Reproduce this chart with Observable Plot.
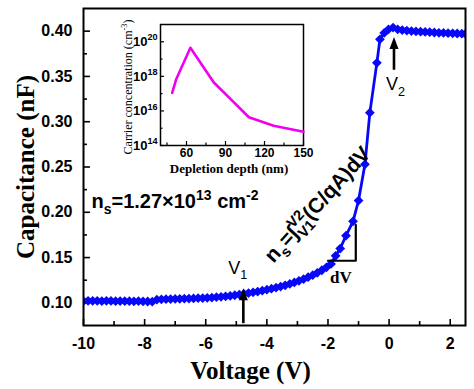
<!DOCTYPE html>
<html><head><meta charset="utf-8">
<script src="https://cdn.jsdelivr.net/npm/d3@7"></script>
<script src="https://cdn.jsdelivr.net/npm/@observablehq/plot@0.6"></script>
<style>
html,body{margin:0;padding:0;background:#fff;}
#wrap{position:relative;width:474px;height:389px;overflow:hidden;}
#main,#inset{position:absolute;}
#main{left:0;top:0;}
#inset{left:118px;top:8px;}
#main [aria-label^="x-axis"] text, #main [aria-label^="y-axis"] text{font-family:"Liberation Sans",Arial,sans-serif;font-weight:bold;font-size:16px;fill:#000;}
#inset [aria-label^="x-axis"] text{font-family:"Liberation Sans",Arial,sans-serif;font-weight:bold;font-size:12px;fill:#000;}
#inset [aria-label^="y-axis"] text{font-family:"Liberation Sans",Arial,sans-serif;font-weight:bold;font-size:13px;fill:#000;}
</style></head>
<body><div id="wrap"><div id="main"></div><div id="inset"></div></div>
<script>
// ---- main C–V data ----
const voltage = [-10,-9.85,-9.7,-9.55,-9.4,-9.25,-9.1,-8.95,-8.8,-8.65,-8.5,-8.35,-8.2,-8.05,-7.9,-7.75,
  -7.6,-7.45,-7.3,-7.15,-7,-6.85,-6.7,-6.55,-6.4,-6.25,-6.1,-5.95,-5.8,-5.65,-5.5,-5.35,-5.2,-5.05,
  -4.9,-4.75,-4.6,-4.45,-4.3,-4.15,-4,-3.85,-3.7,-3.55,-3.4,-3.25,-3.1,-2.95,-2.8,-2.65,-2.5,-2.35,
  -2.2,-2.05,-1.9,-1.75,-1.6,-1.41,-1.18,-1.0,-0.79,-0.63,-0.4,-0.3,-0.16,-0.02,0.13,0.28,0.43,0.58,
  0.73,0.88,1.03,1.18,1.33,1.48,1.63,1.78,1.93,2.08,2.23,2.38,2.5];
const capacitance = [0.1020,0.1023,0.1021,0.1022,0.1020,0.1022,0.1021,0.1019,0.1020,0.1018,0.1019,0.1017,0.1018,0.1016,0.1015,0.1013,
  0.1035,0.1039,0.1040,0.1042,0.1043,0.1044,0.1046,0.1047,0.1049,0.1051,0.1053,0.1056,0.1059,0.1063,0.1067,0.1072,0.1077,0.1084,
  0.1092,0.1100,0.1108,0.1116,0.1125,0.1135,0.1145,0.1156,0.1167,0.1180,0.1194,0.1209,0.1225,0.1243,0.1262,0.1283,0.1306,0.1332,
  0.1360,0.1392,0.1430,0.1520,0.1600,0.1742,0.1900,0.2130,0.2530,0.3100,0.3650,0.3910,0.3980,0.4020,0.4040,0.4020,0.4012,0.4006,
  0.4001,0.3997,0.3994,0.3991,0.3988,0.3985,0.3982,0.3980,0.3978,0.3976,0.3974,0.3972,0.3970];
const xTickValues = [-10,-8,-6,-4,-2,0,2];
const xMinorTicks = [-9,-7,-5,-3,-1,1];
const yTickValues = [0.10,0.15,0.20,0.25,0.30,0.35,0.40];
const yMinorTicks = [0.125,0.175,0.225,0.275,0.325,0.375];

// ---- inset data ----
const depth = [49,52,63,81,94,108,127,150];
const carrier = [1.1e17,6.5e17,4.5e19,4.4e17,4.8e16,4.3e15,1.4e15,6.3e14];
const insetXTicks = [60,90,120,150];
const insetXMinor = [45,75,105,135];
const insetYTicks = [1e14,1e16,1e18,1e20];
const insetYMinor = [1e15,1e17,1e19];

// ---- annotations (data coordinates) ----
const arrows = [{x:-4.77, tip:0.1160, tail:0.0770}, {x:0.16, tip:0.3934, tail:0.3568}];
const vLabels = [{x:-5.26, y:0.132, t:"V_{1}"}, {x:-0.10, y:0.3347, t:"V_{2}"}];
const dVLine = [{x:-2.0, y:0.1465}, {x:-1.09, y:0.1465}, {x:-1.09, y:0.186}];
const dVLabel = [{x:-1.58, y:0.1277, t:"dV"}];
const nsLabel = [{x:-9.74, y:0.2115, t:"n_{s}=1.27×10^{13} cm^{-2}"}];
const formula = [{x:-2.34, y:0.2085, t:"n_{s}=∫^{V2}_{V1}(C/qA)dV"}];

const blue = "#0808f8";
const sans = "Liberation Sans, Arial, sans-serif";
const serif = "Liberation Serif, Times New Roman, serif";
const cv = voltage.map((v, i) => ({v, c: capacitance[i]}));

const arrowHead = {draw(ctx, size) {
  const r = Math.sqrt(size / Math.PI), w = r * 0.9, h = r * 2.4;
  ctx.moveTo(0, 0); ctx.lineTo(w, h); ctx.lineTo(-w, h); ctx.closePath();
}};

const W = 474, H = 389, mL = 83, mR = 9, mT = 8, mB = 64;
const fw = W - mL - mR, fh = H - mT - mB;

const main = Plot.plot({
  width: W, height: H, marginLeft: mL, marginRight: mR, marginTop: mT, marginBottom: mB,
  style: {background: "transparent", overflow: "visible"},
  x: {domain: [-10, 2.5], ticks: xTickValues, tickFormat: d => String(d), tickSize: 0, tickPadding: 12, label: null},
  y: {domain: [0.075, 0.425], ticks: yTickValues, tickFormat: d => d.toFixed(2), tickSize: 0, tickPadding: 11, label: null},
  marks: [
    Plot.tickX(xTickValues, {x: d => d, insetTop: fh - 6, stroke: "#000", strokeWidth: 1.6}),
    Plot.tickX(xMinorTicks, {x: d => d, insetTop: fh - 4, stroke: "#000", strokeWidth: 1.6}),
    Plot.tickY(yTickValues, {y: d => d, insetRight: fw - 7, stroke: "#000", strokeWidth: 1.6}),
    Plot.tickY(yMinorTicks, {y: d => d, insetRight: fw - 4, stroke: "#000", strokeWidth: 1.6}),
    Plot.line(cv, {x: "v", y: "c", stroke: blue, strokeWidth: 2.8, clip: true}),
    Plot.dot(cv, {x: "v", y: "c", symbol: "diamond2", r: 4.4, fill: blue, stroke: "none", clip: true}),
    Plot.frame({stroke: "#000", strokeWidth: 2}),
    Plot.ruleX(arrows, {x: "x", y1: "tail", y2: d => d.tip - 0.007, stroke: "#000", strokeWidth: 2.6}),
    Plot.dot(arrows, {x: "x", y: "tip", symbol: arrowHead, r: 5, fill: "#000", stroke: "none"}),
    Plot.line(dVLine, {x: "x", y: "y", stroke: "#000", strokeWidth: 2.2}),
    Plot.text(vLabels, {x: "x", y: "y", text: "t", textAnchor: "start", lineAnchor: "bottom", fontFamily: sans, fontSize: 18, fill: "#000"}),
    Plot.text(dVLabel, {x: "x", y: "y", text: "t", fontFamily: serif, fontWeight: "bold", fontSize: 17, fill: "#000"}),
    Plot.text(nsLabel, {x: "x", y: "y", text: "t", textAnchor: "start", fontFamily: sans, fontWeight: "bold", fontSize: 20, fill: "#000"}),
    Plot.text(formula, {x: "x", y: "y", text: "t", rotate: -48, fontFamily: sans, fontWeight: "bold", fontSize: 21, fill: "#000"}),
    Plot.text(["Voltage (V)"], {frameAnchor: "bottom", lineAnchor: "middle", dy: 45, dx: -24, text: d => d, fontFamily: serif, fontWeight: "bold", fontSize: 25, fill: "#000"}),
    Plot.text(["Capacitance (nF)"], {frameAnchor: "left", textAnchor: "middle", lineAnchor: "middle", dx: -58, rotate: -90, text: d => d, fontFamily: serif, fontWeight: "bold", fontSize: 25, fill: "#000"})
  ]
});

const iW = 190, iH = 170, iL = 42, iR = 5, iT = 16, iB = 33;
const ifw = iW - iL - iR, ifh = iH - iT - iB;
const inset = Plot.plot({
  width: iW, height: iH, marginLeft: iL, marginRight: iR, marginTop: iT, marginBottom: iB,
  style: {background: "transparent", overflow: "visible"},
  x: {domain: [40, 150], ticks: insetXTicks, tickFormat: d => String(d), tickSize: 0, tickPadding: 3, label: null},
  y: {type: "log", domain: [1e14, 1e21], ticks: insetYTicks, tickFormat: d => "10^{" + Math.round(Math.log10(d)) + "}", tickSize: 0, tickPadding: 3, label: null},
  marks: [
    Plot.tickX(insetXTicks, {x: d => d, insetTop: ifh - 4, stroke: "#000", strokeWidth: 1.2}),
    Plot.tickX(insetXMinor, {x: d => d, insetTop: ifh - 2.5, stroke: "#000", strokeWidth: 1.2}),
    Plot.tickY(insetYTicks, {y: d => d, insetRight: ifw - 4, stroke: "#000", strokeWidth: 1.2}),
    Plot.tickY(insetYMinor, {y: d => d, insetRight: ifw - 2.5, stroke: "#000", strokeWidth: 1.2}),
    Plot.frame({stroke: "#000", strokeWidth: 1.5}),
    Plot.line(depth.map((d, i) => ({d, c: carrier[i]})), {x: "d", y: "c", stroke: "#f000f0", strokeWidth: 2.6}),
    Plot.text(["Depletion depth (nm)"], {frameAnchor: "bottom", lineAnchor: "middle", dy: 23, dx: -3, text: d => d, fontFamily: serif, fontWeight: "bold", fontSize: 13, fill: "#000"}),
    Plot.text(["Carrier concentration (cm^{-3})"], {frameAnchor: "left", textAnchor: "middle", lineAnchor: "middle", dx: -32, dy: 2, rotate: -90, text: d => d, fontFamily: serif, fontSize: 12, fill: "#000"})
  ]
});

document.getElementById("main").appendChild(main);
document.getElementById("inset").appendChild(inset);

function richText(root) {
  const NS = "http://www.w3.org/2000/svg";
  root.querySelectorAll("text").forEach(el => {
    const s = el.textContent;
    if (!/[_^]\{/.test(s)) return;
    const fs = parseFloat(getComputedStyle(el).fontSize) || 10;
    while (el.firstChild) el.removeChild(el.firstChild);
    const re = /([_^])\{([^}]*)\}|([^_^]+)/g;
    let m, shift = 0, prev = null;
    while ((m = re.exec(s))) {
      const t = document.createElementNS(NS, "tspan");
      if (m[3] !== undefined) {
        t.textContent = m[3];
        if (shift) t.setAttribute("dy", -shift);
        shift = 0; prev = null;
        el.appendChild(t);
      } else {
        const target = m[1] === "^" ? -0.42 * fs : 0.3 * fs;
        t.textContent = m[2];
        t.setAttribute("font-size", 0.7 * fs);
        t.setAttribute("dy", target - shift);
        shift = target;
        el.appendChild(t);
        if (prev) t.setAttribute("dx", -prev.getComputedTextLength());
        prev = t;
      }
    }
  });
}
richText(main);
richText(inset);
</script></body></html>
